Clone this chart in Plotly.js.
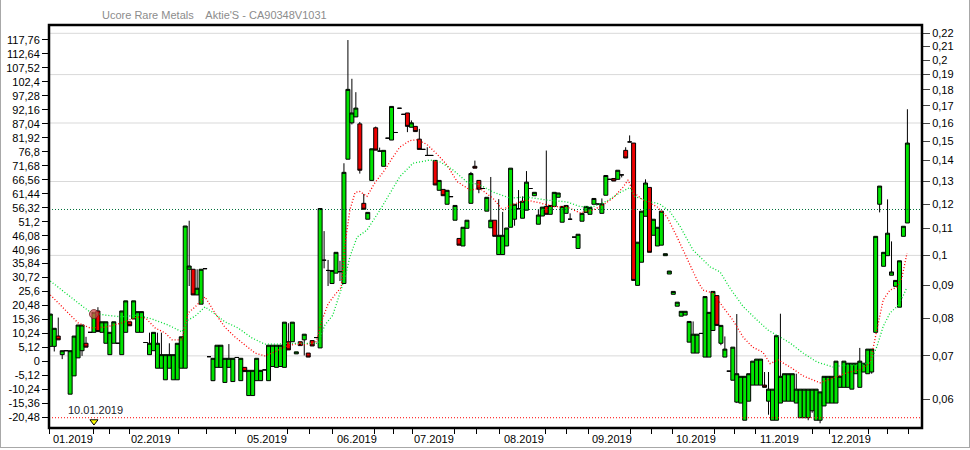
<!DOCTYPE html>
<html><head><meta charset="utf-8">
<script src="https://cdn.plot.ly/plotly-3.0.1.min.js"></script>
<style>
html,body{margin:0;padding:0;background:#fff;}
#chart{width:970px;height:450px;}
#edge{position:absolute;left:0;top:0;width:968px;height:447px;border-left:1px solid #a8a8a8;border-right:1px solid #a8a8a8;border-bottom:1px solid #a8a8a8;pointer-events:none;}
</style>
</head><body><div id="chart"></div><div id="edge"></div>
<script>
const titleText = "Ucore Rare Metals\u00a0\u00a0\u00a0 Aktie'S - CA90348V1031";

const open = [
 .0724,.0724,.0751,.0703,.0713,.0611,.0652,.0695,.0713,.0732,
 .0761,.0761,.0821,.0761,.0732,.0703,.0732,.0732,.0703,.0761,
 .0790,.0798,.0761,.0761,.0734,.0703,.0713,.0670,.0670,.0643,
 .0670,.0643,.0643,.0670,.0670,.0952,.0952,.0869,.0841,.0954,
 .0698,.0641,.0672,.0672,.0637,.0672,.0639,.0696,.0641,.0672,
 .0608,.0608,.0641,.0641,.0666,.0641,.0674,.0672,.0674,.0672,
 .0736,.0736,.0705,.0736,.0741,.0707,.0739,.0747,.0720,.0983,
 .0948,.0905,.0939,.0944,.0905,.1407,.1601,.1635,.1595,.1203,
 .1137,.1305,.1573,.1448,.1372,.1516,.1506,.1547,.1686,.1650,
 .1658,.1576,.1581,.1511,.1457,.1426,.1426,.1401,.1260,.1264,
 .1199,.1232,.1133,.1062,.1034,.1101,.1203,.1372,.1305,.1268,
 .1170,.1103,.1133,.1003,.1003,.1034,.1105,.1137,.1180,.1141,
 .1174,.1268,.1236,.1117,.1150,.1190,.1157,.1190,.1229,.1125,
 .1161,.1137,.1067,.1025,.1129,.1165,.1157,.1199,.1200,.1161,
 .1238,.1310,.1314,.1310,.1331,.1452,.1496,.1490,.0899,.0976,
 .1149,.1273,.1074,.1034,.1037,.0999,.0936,.0871,.0835,.0806,
 .0809,.0735,.0707,.0707,.0758,.0697,.0697,.0766,.0867,.0732,
 .0697,.0663,.0642,.0594,.0592,.0557,.0596,.0631,.0631,.0631,
 .0631,.0596,.0557,.0557,.0592,.0596,.0596,.0596,.0592,.0562,
 .0562,.0562,.0576,.0557,.0557,.0586,.0592,.0592,.0592,.0626,
 .0626,.0626,.0622,.0657,.0626,.0661,.0657,.0661,.0761,.1199,
 .0962,.0999,.0932,.0896,.0832,.1070,.1122];

const high = [
 .0812,.0772,.0802,.0713,.0713,.0713,.0751,.0781,.0781,.0749,
 .0761,.0817,.0832,.0790,.0790,.0761,.0790,.0732,.0821,.0851,
 .0790,.0851,.0819,.0819,.0734,.0760,.0761,.0760,.0760,.0703,
 .0732,.0703,.0732,.0749,.1110,.1131,.0952,.0952,.0952,.0954,
 .0698,.0694,.0727,.0727,.0694,.0730,.0694,.0696,.0694,.0672,
 .0665,.0665,.0694,.0665,.0666,.0727,.0727,.0727,.0727,.0789,
 .0786,.0789,.0710,.0736,.0756,.0707,.0739,.0747,.1181,.1090,
 .0984,.0948,.1011,.0981,.1387,.2148,.1872,.1785,.1606,.1244,
 .1165,.1460,.1580,.1466,.1452,.1516,.1697,.1547,.1686,.1650,
 .1658,.1615,.1581,.1567,.1457,.1468,.1426,.1401,.1305,.1264,
 .1260,.1232,.1194,.1062,.1105,.1133,.1345,.1400,.1305,.1268,
 .1229,.1321,.1133,.1221,.1167,.1102,.1363,.1199,.1261,.1233,
 .1349,.1268,.1251,.1178,.1187,.1451,.1194,.1251,.1248,.1190,
 .1194,.1161,.1067,.1078,.1161,.1190,.1186,.1224,.1200,.1224,
 .1328,.1310,.1314,.1353,.1331,.1468,.1531,.1490,.1048,.1170,
 .1310,.1273,.1137,.1105,.1170,.1006,.0946,.0880,.0847,.0820,
 .0820,.0791,.0791,.0756,.0758,.0864,.0817,.0880,.0867,.0780,
 .0750,.0663,.0722,.0812,.0651,.0651,.0657,.0687,.0692,.0692,
 .0661,.0661,.0622,.0752,.0813,.0657,.0657,.0657,.0657,.0622,
 .0622,.0622,.0622,.0622,.0616,.0651,.0651,.0651,.0687,.0651,
 .0687,.0682,.0682,.0682,.0720,.0682,.0717,.0717,.1070,.1279,
 .1011,.1220,.1051,.0915,.0981,.1109,.1680];

const low = [
 .0724,.0711,.0741,.0692,.0713,.0611,.0652,.0695,.0700,.0722,
 .0761,.0761,.0763,.0761,.0732,.0703,.0732,.0732,.0703,.0761,
 .0779,.0798,.0761,.0761,.0734,.0703,.0713,.0670,.0670,.0643,
 .0670,.0643,.0643,.0670,.0670,.0897,.0869,.0869,.0841,.0954,
 .0698,.0640,.0672,.0672,.0636,.0672,.0639,.0696,.0641,.0662,
 .0608,.0608,.0641,.0641,.0666,.0641,.0674,.0672,.0674,.0672,
 .0715,.0736,.0705,.0726,.0701,.0697,.0725,.0747,.0720,.0955,
 .0897,.0905,.0939,.0913,.0905,.1407,.1592,.1635,.1337,.1178,
 .1137,.1305,.1453,.1448,.1372,.1516,.1506,.1547,.1686,.1650,
 .1549,.1576,.1552,.1457,.1457,.1426,.1426,.1284,.1260,.1236,
 .1199,.1232,.1133,.1037,.1034,.1101,.1203,.1363,.1247,.1268,
 .1170,.1103,.1070,.1003,.1003,.1034,.1105,.1111,.1180,.1141,
 .1174,.1268,.1236,.1117,.1150,.1157,.1157,.1190,.1229,.1125,
 .1161,.1137,.1067,.1025,.1129,.1165,.1157,.1199,.1200,.1161,
 .1238,.1310,.1302,.1310,.1319,.1413,.1496,.0915,.0899,.0976,
 .1149,.1011,.1074,.1034,.1037,.0999,.0936,.0871,.0835,.0806,
 .0809,.0735,.0707,.0707,.0758,.0697,.0697,.0766,.0780,.0727,
 .0697,.0663,.0642,.0592,.0592,.0557,.0596,.0631,.0631,.0631,
 .0626,.0568,.0557,.0557,.0592,.0596,.0596,.0596,.0592,.0562,
 .0562,.0557,.0572,.0557,.0551,.0586,.0592,.0592,.0592,.0626,
 .0626,.0626,.0622,.0657,.0626,.0661,.0657,.0657,.0761,.1165,
 .0962,.0999,.0932,.0896,.0832,.1070,.1122];

const close = [
 .0812,.0772,.0741,.0713,.0713,.0713,.0751,.0781,.0781,.0722,
 .0761,.0817,.0763,.0790,.0790,.0761,.0790,.0732,.0821,.0851,
 .0779,.0851,.0819,.0819,.0734,.0732,.0761,.0732,.0703,.0703,
 .0703,.0703,.0732,.0749,.1110,.0963,.0869,.0890,.0952,.0954,
 .0698,.0694,.0727,.0727,.0694,.0694,.0694,.0696,.0694,.0662,
 .0665,.0665,.0694,.0665,.0666,.0727,.0727,.0727,.0727,.0789,
 .0715,.0789,.0710,.0726,.0756,.0697,.0725,.0747,.1181,.0983,
 .0948,.0948,.1011,.0944,.1343,.1803,.1658,.1687,.1353,.1178,
 .1165,.1460,.1453,.1448,.1452,.1516,.1697,.1547,.1686,.1650,
 .1581,.1601,.1552,.1457,.1457,.1426,.1426,.1284,.1305,.1236,
 .1260,.1232,.1194,.1037,.1105,.1133,.1337,.1363,.1265,.1268,
 .1229,.1133,.1070,.1074,.1074,.1102,.1363,.1199,.1180,.1212,
 .1297,.1268,.1251,.1154,.1187,.1157,.1194,.1251,.1248,.1190,
 .1194,.1137,.1067,.1078,.1161,.1190,.1186,.1224,.1200,.1201,
 .1328,.1310,.1302,.1353,.1331,.1413,.1496,.0915,.1048,.1170,
 .1293,.1011,.1137,.1105,.1170,.1006,.0946,.0880,.0847,.0820,
 .0820,.0791,.0756,.0756,.0758,.0864,.0817,.0880,.0780,.0780,
 .0717,.0663,.0722,.0657,.0651,.0651,.0657,.0687,.0692,.0692,
 .0626,.0622,.0622,.0752,.0651,.0657,.0657,.0657,.0622,.0622,
 .0622,.0622,.0622,.0622,.0616,.0651,.0651,.0651,.0687,.0651,
 .0687,.0682,.0682,.0682,.0687,.0682,.0717,.0717,.1070,.1279,
 .1011,.1082,.0943,.0915,.0981,.1109,.1490];

// short moving average (red, dotted): bar index / price
const maRedIdx = [0,3.7,7,10,13.8,18,22,24,26.4,29,30.7,33.2,34.7,36.5,39,41.5,44,46.5,49,51.6,54,56.6,59,61.7,64,67,68.5,70,71.7,73.3,74.3,75.5,76.8,78,79.8,81.8,84.3,86,88.1,90.6,92.4,94.9,97.4,100,102.5,105.8,108.3,111.6,114,115.8,120,123.4,126.7,130,133.5,136.8,139.3,141.8,144.3,145.6,146.9,149.4,152.9,155.4,157.9,160.4,163,164.5,167,169.5,172,174.6,177,179.6,181.4,183.4,186.4,189.7,194,197.2,200.7,204,206.6,208.3,209.9,211.6,213.3,214.6,215.9];
const maRedVal = [.0869,.0824,.0787,.0773,.0775,.0787,.0804,.0801,.0773,.0759,.0741,.0741,.0815,.0833,.0863,.0815,.0775,.0749,.0728,.0707,.0700,.0710,.0723,.0730,.0728,.0736,.0795,.0842,.0869,.0893,.1043,.1175,.1250,.1255,.1233,.1294,.1354,.1408,.1469,.1503,.1508,.1483,.1434,.1378,.1300,.1261,.1268,.1224,.1175,.1194,.1217,.1205,.1189,.1189,.1163,.1175,.1196,.1226,.1273,.1307,.1252,.1217,.1189,.1147,.1069,.0992,.0916,.0884,.0875,.0833,.0795,.0748,.0722,.0709,.0681,.0690,.0673,.0652,.0636,.0647,.0659,.0666,.0683,.0767,.0854,.0884,.0893,.0923,.1008];

// long moving average (green, dotted)
const maGreenIdx = [0,3.7,7,10,13.8,18,22,25.6,29.7,33.2,34.7,36.5,39,41.5,44,47.3,50.8,54,57.4,59.9,63.4,67.5,69.2,71.2,74.3,75.5,77.3,79.8,83.1,85.6,88.1,91.4,95.7,98.2,101.5,105,108.3,111.6,115.8,120.1,125.2,130.2,133.5,136.8,140.3,143.6,146.1,147.3,150.4,153.6,156.2,158.7,162,166.3,168.8,171.3,174.6,178.1,180.9,182.2,186.4,189.7,193.2,197.2,200.7,204,206.6,208.3,209.9,211.6,213.3,214.8,215.9];
const maGreenVal = [.0913,.0875,.0845,.0818,.0809,.0804,.0809,.0798,.0781,.0762,.0795,.0806,.0833,.0812,.0790,.0773,.0746,.0730,.0730,.0732,.0732,.0732,.0781,.0809,.0926,.0995,.1067,.1094,.1175,.1250,.1323,.1387,.1403,.1394,.1354,.1298,.1284,.1252,.1226,.1230,.1217,.1209,.1189,.1189,.1213,.1250,.1273,.1233,.1213,.1200,.1167,.1109,.1019,.0960,.0943,.0890,.0834,.0795,.0767,.0759,.0733,.0707,.0685,.0673,.0678,.0678,.0683,.0723,.0777,.0815,.0833,.0863,.0893];

const leftLabels = ["-20,48","-15,36","-10,24","-5,12","0","5,12","10,24","15,36","20,48","25,6","30,72","35,84","40,96","46,08","51,2","56,32","61,44","66,56","71,68","76,8","81,92","87,04","92,16","97,28","102,4","107,52","112,64","117,76"];
const rightLabels = ["0,06","0,07","0,08","0,09","0,1","0,11","0,12","0,13","0,14","0,15","0,16","0,17","0,18","0,19","0,2","0,21","0,22"];
const gridVals = [0.07,0.10,0.13,0.16,0.19,0.22];
const monthLabels = ["01.2019","02.2019","05.2019","06.2019","07.2019","08.2019","09.2019","10.2019","11.2019","12.2019"];
const monthIdx = [5.6,25.45,54.5,77.3,96.6,119.3,141.6,162.7,183.7,201.7];
const weekTickIdx = [-0.1,10.84,14.87,19.9,32.4,39.4,46.7,59.7,65.3,71.1,81.7,86.4,91.2,101.8,107.5,113.2,124.7,130.1,135.6,146.1,151.6,156.8,167.5,172.4,177.6,192.1,196.3,206.1,211.0,216.2];
const refHigh = 0.1177;
const refLow = 0.0562;
const eventLabel = "10.01.2019";
const eventIdx = 11;
const eventPrice = 0.0812;

const leftVals = leftLabels.map(s => parseFloat(s.replace(',', '.')));
const rightVals = rightLabels.map(s => parseFloat(s.replace(',', '.')));
const xIdx = open.map((_, i) => i);
const xRange = [-0.33, 219.68];

const traces = [
  {type:'scatter', x:[null], y:[null], xaxis:'x', yaxis:'y', hoverinfo:'skip', showlegend:false},
  {type:'candlestick', x:xIdx, open:open, high:high, low:low, close:close, xaxis:'x', yaxis:'y2',
   increasing:{fillcolor:'#00e400', line:{color:'#000', width:1}},
   decreasing:{fillcolor:'#ee0000', line:{color:'#000', width:1}},
   whiskerwidth:0, hoverinfo:'skip', showlegend:false},
  {type:'scatter', mode:'lines', x:maRedIdx, y:maRedVal, xaxis:'x', yaxis:'y2',
   line:{color:'#ff0000', width:1.3, dash:'1px,2px'}, hoverinfo:'skip', showlegend:false},
  {type:'scatter', mode:'lines', x:maGreenIdx, y:maGreenVal, xaxis:'x', yaxis:'y2',
   line:{color:'#00dd33', width:1.3, dash:'1px,2px'}, hoverinfo:'skip', showlegend:false},
  {type:'scatter', mode:'markers', x:[eventIdx], y:[eventPrice], xaxis:'x', yaxis:'y2',
   marker:{symbol:'circle', size:9, color:'rgba(215,80,80,0.7)', line:{color:'rgba(110,40,40,0.8)', width:1}},
   hoverinfo:'skip', showlegend:false},
  {type:'scatter', mode:'markers', x:[eventIdx], y:[0.016], xaxis:'x', yaxis:'y3', cliponaxis:false,
   marker:{symbol:'triangle-down', size:7, color:'#ffff00', line:{color:'#000', width:1}},
   hoverinfo:'skip', showlegend:false}
];

const shapes = [];
gridVals.forEach(v => shapes.push({type:'line', xref:'paper', x0:0, x1:1, yref:'y2', y0:v, y1:v,
  line:{color:'#d9d9d9', width:1}, layer:'below'}));
shapes.push({type:'line', xref:'paper', x0:0, x1:1, yref:'y2', y0:refHigh, y1:refHigh,
  line:{color:'#00703a', width:1, dash:'1px,2px'}, layer:'above'});
shapes.push({type:'line', xref:'paper', x0:0, x1:1, yref:'y2', y0:refLow, y1:refLow,
  line:{color:'#ff0000', width:1, dash:'1px,2px'}, layer:'above'});
shapes.push({type:'rect', xref:'paper', yref:'paper', x0:0, x1:1, y0:0, y1:1,
  line:{color:'#000', width:2.5}, layer:'above'});

const annotations = monthLabels.map((t, i) => ({
  text:t, x:monthIdx[i], xref:'x', y:0, yref:'paper', yanchor:'top', yshift:-3,
  xanchor:'center', showarrow:false, font:{size:11, color:'#000'}
}));
annotations.push({text:eventLabel, x:eventIdx, xref:'x', y:0.0447, yref:'paper', xanchor:'center',
  yanchor:'middle', xshift:2, showarrow:false, font:{size:11, color:'#1a1a2a'}});

const layout = {
  width:970, height:450,
  margin:{l:49, r:48, t:25, b:22, pad:0},
  paper_bgcolor:'#ffffff', plot_bgcolor:'#ffffff',
  separators:',.',
  font:{family:'"Liberation Sans", Arial, sans-serif', size:11, color:'#000'},
  title:{text:titleText, x:102/970, xanchor:'left', y:1-15/450, yanchor:'middle',
    font:{size:11, color:'#8c8c8c', family:'"Liberation Sans", Arial, sans-serif'}},
  showlegend:false,
  boxgap:0, boxgroupgap:0,
  xaxis:{range:xRange, tickmode:'array', tickvals:weekTickIdx, showticklabels:false,
    ticks:'outside', ticklen:5, tickcolor:'#000', tickwidth:1,
    showgrid:false, zeroline:false, showline:false, rangeslider:{visible:false}, fixedrange:true},
  yaxis:{range:[-24.36, 123.25], tickmode:'array', tickvals:leftVals, ticktext:leftLabels,
    ticks:'outside', ticklen:6, tickcolor:'#000', tickwidth:1,
    showgrid:false, zeroline:false, showline:false, fixedrange:true, tickfont:{size:11, color:'#000'}},
  yaxis2:{overlaying:'y', side:'right', anchor:'x', type:'log', range:[-1.26611, -0.64478],
    tickmode:'array', tickvals:rightVals, ticktext:rightLabels,
    ticks:'outside', ticklen:7, tickcolor:'#444', tickwidth:1,
    showgrid:false, zeroline:false, showline:false, fixedrange:true, tickfont:{size:11, color:'#000'}},
  yaxis3:{overlaying:'y', range:[0,1], visible:false, fixedrange:true},
  shapes:shapes,
  annotations:annotations
};

Plotly.newPlot('chart', traces, layout, {displayModeBar:false, staticPlot:true});
</script>
</body></html>
